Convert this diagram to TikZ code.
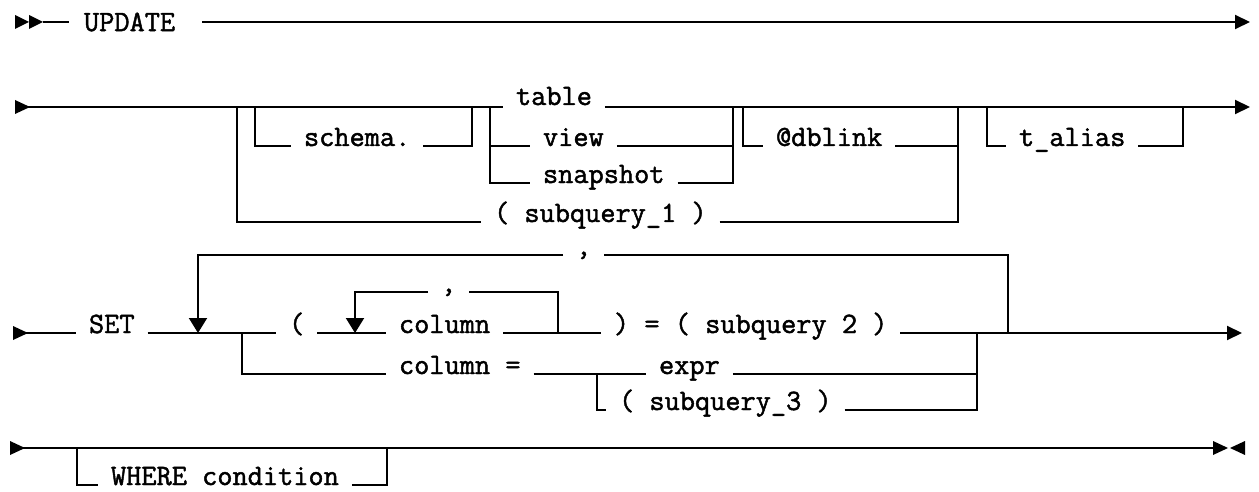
\documentclass[tikz,border=0pt]{standalone}
\usepackage{fontspec}
\newfontfamily\rrfont{Latin Modern Mono}[FakeBold=1.6]
\usetikzlibrary{arrows.meta}
\tikzset{
  rr/.style={line width=2pt, line cap=butt},
  lbl/.style={font={\rrfont\fontsize{29.5}{32}\selectfont}, inner xsep=12pt, inner ysep=0pt, anchor=base west},
  endarrow/.style={-{Triangle[length=15pt,width=14pt]}},
  looparrow/.style={-{Triangle[length=15pt,width=18pt]}},
  startmark/.pic={\fill (0,-7) -- (15,0) -- (0,7) -- cycle;},
  stopmark/.pic={\fill (0,-7) -- (15,0) -- (0,7) -- cycle; \fill (32,-7) -- (17,0) -- (32,7) -- cycle;},
  dblstart/.pic={\fill (0,-7) -- (14,0) -- (0,7) -- cycle; \fill (14,-7) -- (28,0) -- (14,7) -- cycle;}
}
\begin{document}
\begin{tikzpicture}[x=1pt,y=-1pt,rr]
\useasboundingbox (0,0) rectangle (1259,492);
% ---------- row 1 ----------
\coordinate (r1s) at (15,22);
\coordinate (r1e) at (1250,22);
\pic at (r1s) {dblstart};
\node[lbl, anchor=west, inner xsep=14pt] (upd) at (69,22) {UPDATE};
\draw (r1s) ++(28,0) coordinate (r1a) (r1a) -- (upd.west);
\draw[endarrow] (upd.east) ++(12,0) coordinate (r1b) (r1b) -- (r1e);
% ---------- row 2 ----------
\coordinate (r2s) at (15,107);
\coordinate (r2e) at (1250,107);
\coordinate (j2a) at (237,107);
\coordinate (j2b) at (255,107);
\coordinate (j2c) at (472,107);
\coordinate (j2d) at (490,107);
\coordinate (j2e) at (733,107);
\coordinate (j2f) at (743,107);
\coordinate (j2g) at (958,107);
\coordinate (j2h) at (987,107);
\coordinate (j2i) at (1183,107);
\pic at (r2s) {startmark};
\node[lbl] (tbl) at (503,105) {table};
\node[lbl] (sch) at (291,146) {schema.};
\node[lbl] (vw)  at (530,146) {view};
\node[lbl] (snp) at (530,183) {snapshot};
\node[lbl] (sq1) at (481,222) {( subquery\_1 )};
\node[lbl] (dbl) at (763,146) {@dblink};
\node[lbl] (tal) at (1006,146) {t\_alias};
\draw (r2s) -- (tbl.base west |- r2s);
\draw[endarrow] (tbl.base east |- r2s) -- (r2e);
\draw (j2b) |- (sch.base west);
\draw (sch.base east) -| (j2c);
\draw (j2d) |- (vw.base west);
\draw (vw.base east) -| (j2e);
\draw (j2d) |- (snp.base west);
\draw (snp.base east) -| (j2e);
\draw (j2f) |- (dbl.base west);
\draw (dbl.base east) -| (j2g);
\draw (j2a) |- (sq1.base west);
\draw (sq1.base east) -| (j2g);
\draw (j2h) |- (tal.base west);
\draw (tal.base east) -| (j2i);
% ---------- row 3 ----------
\coordinate (r3s) at (13,333);
\coordinate (r3e) at (1242,333);
\coordinate (j3a) at (198,333);
\coordinate (j3b) at (242,333);
\coordinate (j3c) at (355,333);
\coordinate (j3d) at (558,333);
\coordinate (j3e) at (977,333);
\coordinate (j3f) at (1008,333);
\coordinate (j3g) at (597,374);
\pic at (r3s) {startmark};
\node[lbl] (set)  at (76,333)  {SET};
\node[lbl] (par)  at (276,333) {(};
\node[lbl] (col1) at (386,333) {column};
\node[lbl] (eqs)  at (601,333) {) = ( subquery 2 )};
\node[lbl] (cm1)  at (563,255) {,};
\node[lbl] (cm2)  at (428,292) {,};
\node[lbl] (col2) at (386,374) {column =};
\node[lbl] (expr) at (646,374) {expr};
\node[lbl] (sq3)  at (606,410) {( subquery\_3 )};
\draw (r3s) -- (set.base west);
\draw (set.base east) -- (par.base west);
\draw (par.base east) -- (col1.base west);
\draw (col1.base east) -- (eqs.base west);
\draw[endarrow] (eqs.base east) -- (r3e);
\draw[looparrow] (j3f) |- (cm1.base east) (cm1.base west) -| (j3a);
\draw[looparrow] (j3d) |- (cm2.base east) (cm2.base west) -| (j3c);
\draw (j3b) |- (col2.base west);
\draw (col2.base east) -- (expr.base west);
\draw (expr.base east) -| (j3e);
\draw (j3g) |- (sq3.base west);
\draw (sq3.base east) -| (j3e);
% ---------- row 4 ----------
\coordinate (r4s) at (10,448);
\coordinate (r4e) at (1213,448);
\coordinate (j4a) at (77,448);
\coordinate (j4b) at (387,448);
\pic at (r4s) {startmark};
\pic at (r4e) {stopmark};
\node[lbl] (whr) at (98,485) {WHERE condition};
\draw (r4s) -- (r4e);
\draw (j4a) |- (whr.base west);
\draw (whr.base east) -| (j4b);
\end{tikzpicture}
\end{document}
